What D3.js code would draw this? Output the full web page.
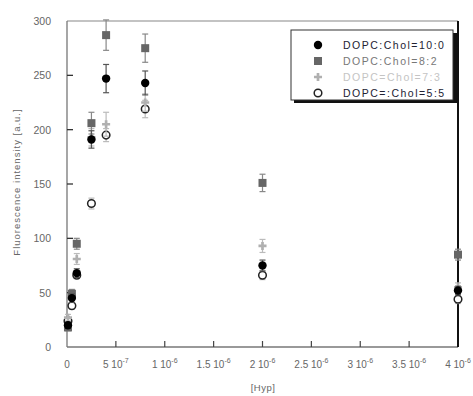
<!DOCTYPE html>
<html><head><meta charset="utf-8">
<script src="https://cdn.jsdelivr.net/npm/d3@7"></script>
<style>body{margin:0;background:#fff;} svg{display:block;font-family:"Liberation Sans",Arial,sans-serif;}</style>
</head><body>
<script>
// data
const conc = [1e-8, 5e-8, 1e-7, 2.5e-7, 4e-7, 8e-7, 2e-6, 4e-6];
const seriesNames = ["DOPC:Chol=10:0", "DOPC:Chol=8:2", "DOPC=Chol=7:3", "DOPC=:Chol=5:5"];
const black10 = [20, 45, 68, 191, 247, 243, 75, 52];
const black10Err = [3, 4, 4, 8, 13, 11, 5, 4];
const sq82 = [18, 49, 95, 206, 287, 275, 151, 85];
const sq82Err = [3, 4, 5, 10, 14, 13, 8, 5];
const cr73 = [27, 47, 81, 193, 205, 225, 93, 55];
const cr73Err = [3, 4, 5, 8, 11, 8, 6, 4];
const op55 = [24, 38, 66, 132, 195, 219, 66, 44];
const op55Err = [2, 3, 3, 5, 6, 8, 4, 4];
const xTickVals = [0, 5e-7, 1e-6, 1.5e-6, 2e-6, 2.5e-6, 3e-6, 3.5e-6, 4e-6];
const xTickMant = ["0", "5", "1", "1.5", "2", "2.5", "3", "3.5", "4"];
const xTickExp = ["", "-7", "-6", "-6", "-6", "-6", "-6", "-6", "-6"];
const yTickVals = [0, 50, 100, 150, 200, 250, 300];

const W = 473, H = 396;
const svg = d3.select("body").append("svg").attr("width", W).attr("height", H);
const x = d3.scaleLinear().domain([0, 4e-6]).range([67, 458]);
const y = d3.scaleLinear().domain([0, 300]).range([347, 21]);

// frame
svg.append("line").attr("x1", 67).attr("x2", 458).attr("y1", y(300)).attr("y2", y(300)).attr("stroke", "#888").attr("stroke-width", 1.2);
svg.append("line").attr("x1", 67).attr("x2", 67).attr("y1", y(0)).attr("y2", y(300)).attr("stroke", "#777").attr("stroke-width", 1.3);
svg.append("line").attr("x1", 67).attr("x2", 458).attr("y1", y(0)).attr("y2", y(0)).attr("stroke", "#777").attr("stroke-width", 1.3);
svg.append("line").attr("x1", 458).attr("x2", 458).attr("y1", y(0)).attr("y2", y(300)).attr("stroke", "#111").attr("stroke-width", 2);

// y ticks
const yg = svg.append("g");
yTickVals.forEach(v => {
  if (v > 0 && v < 300) yg.append("line").attr("x1", 67).attr("x2", 73).attr("y1", y(v)).attr("y2", y(v)).attr("stroke", "#333").attr("stroke-width", 1.3);
  yg.append("text").attr("x", 51).attr("y", y(v) + 4).attr("text-anchor", "end").attr("font-size", 10.5).attr("fill", "#666").text(v);
});
// x ticks
const xg = svg.append("g");
xTickVals.forEach((v, i) => {
  if (v > 0 && v < 4e-6) xg.append("line").attr("x1", x(v)).attr("x2", x(v)).attr("y1", y(0)).attr("y2", y(0) - 6).attr("stroke", "#444").attr("stroke-width", 1.2);
  const t = xg.append("text").attr("x", x(v)).attr("y", 368).attr("text-anchor", "middle").attr("font-size", 10).attr("fill", "#666");
  if (xTickExp[i] === "") t.text(xTickMant[i]);
  else {
    t.append("tspan").text(xTickMant[i] + " 10");
    t.append("tspan").attr("dy", -5).attr("font-size", 7).text(xTickExp[i]);
  }
});
svg.append("text").attr("x", 263).attr("y", 391).attr("text-anchor", "middle").attr("font-size", 9.5).attr("letter-spacing", 0.5).attr("fill", "#666").text("[Hyp]");
svg.append("text").attr("transform", "translate(20,182) rotate(-90)").attr("text-anchor", "middle").attr("font-size", 9.5).attr("letter-spacing", 1).attr("fill", "#666").text("Fluorescence intensity [a.u.]");

// series
const series = [
  {vals: op55, err: op55Err, type: "open", color: "#222", ebar: "#bbb"},
  {vals: cr73, err: cr73Err, type: "cross", color: "#b0b0b0", ebar: "#bbb"},
  {vals: sq82, err: sq82Err, type: "square", color: "#666", ebar: "#888"},
  {vals: black10, err: black10Err, type: "black", color: "#000", ebar: "#555"}
];
function marker(g, type, cx, cy, color) {
  if (type === "black") g.append("circle").attr("cx", cx).attr("cy", cy).attr("r", 4.2).attr("fill", color);
  else if (type === "open") g.append("circle").attr("cx", cx).attr("cy", cy).attr("r", 3.8).attr("fill", "#fff").attr("stroke", color).attr("stroke-width", 1.5);
  else if (type === "square") g.append("rect").attr("x", cx - 4).attr("y", cy - 4).attr("width", 8).attr("height", 8).attr("fill", color);
  else g.append("path").attr("transform", `translate(${cx},${cy})`).attr("d", d3.symbol(d3.symbolCross, 36)()).attr("fill", color);
}
series.forEach(s => {
  const g = svg.append("g");
  conc.forEach((c, i) => {
    const cx = x(c), cy = y(s.vals[i]), e = s.err[i];
    g.append("line").attr("x1", cx).attr("x2", cx).attr("y1", y(s.vals[i] - e)).attr("y2", y(s.vals[i] + e)).attr("stroke", s.ebar).attr("stroke-width", 1.2);
    [s.vals[i] - e, s.vals[i] + e].forEach(v => g.append("line").attr("x1", cx - 3).attr("x2", cx + 3).attr("y1", y(v)).attr("y2", y(v)).attr("stroke", s.ebar).attr("stroke-width", 1.2));
    marker(g, s.type, cx, cy, s.color);
  });
});

// legend
const lg = svg.append("g");
lg.append("rect").attr("x", 294).attr("y", 33).attr("width", 163).attr("height", 70).attr("fill", "#111");
lg.append("rect").attr("x", 291).attr("y", 30).attr("width", 162).attr("height", 70).attr("fill", "#fff").attr("stroke", "#333").attr("stroke-width", 1);
const legTypes = ["black", "square", "cross", "open"];
const legColors = ["#000", "#666", "#b0b0b0", "#222"];
const legText = ["#223", "#777", "#c4c4c4", "#223"];
seriesNames.forEach((n, i) => {
  const ly = 45 + i * 16;
  marker(lg, legTypes[i], 318, ly, legColors[i]);
  lg.append("text").attr("x", 343).attr("y", ly + 4).attr("font-size", 10.5).attr("letter-spacing", 1.5).attr("fill", legText[i]).text(n);
});
</script>
</body></html>
